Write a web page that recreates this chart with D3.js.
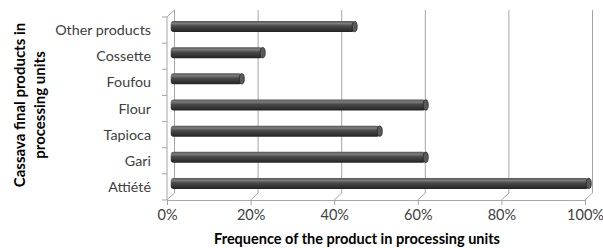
<!DOCTYPE html>
<html>
<head>
<meta charset="utf-8">
<script src="https://cdn.jsdelivr.net/npm/d3@7"></script>
<style>
  body { margin: 0; background: #fff; }
  text { font-family: Lato, "Open Sans", sans-serif; }
</style>
</head>
<body>
<div id="chart"></div>
<script>
// chart data, bottom to top as drawn
const categories = ["Attiété", "Gari", "Tapioca", "Flour", "Foufou", "Cossette", "Other products"];
const frequence = [1.00, 0.61, 0.50, 0.61, 0.17, 0.22, 0.44];
const xTicks = [0, 0.2, 0.4, 0.6, 0.8, 1.0];

const width = 603, height = 248;
// front plane of the 3d box
const plot = { left: 167, right: 585, top: 17, bottom: 200 };
// depth offset of back wall
const depth = { dx: 7.5, dy: -7 };

const svg = d3.select("#chart")
  .append("svg")
  .attr("width", width)
  .attr("height", height);

const defs = svg.append("defs");
const grad = defs.append("linearGradient")
  .attr("id", "cyl")
  .attr("x1", 0).attr("y1", 0).attr("x2", 0).attr("y2", 1);
grad.append("stop").attr("offset", "0%").attr("stop-color", "#555");
grad.append("stop").attr("offset", "22%").attr("stop-color", "#7c7c7c");
grad.append("stop").attr("offset", "45%").attr("stop-color", "#4a4a4a");
grad.append("stop").attr("offset", "100%").attr("stop-color", "#222");

// scales
let xScale = d3.scaleLinear()
  .domain([0, 1])
  .range([plot.left, plot.right]);

let yScale = d3.scaleBand()
  .domain(categories)
  .range([plot.bottom, plot.top])
  .paddingInner(0.58)
  .paddingOuter(0.29);

let yBand = d3.scaleBand()
  .domain(categories)
  .range([plot.bottom, plot.top]);

const grid = "#a6a6a6";

// back wall gridlines with floor diagonal
svg.append("g")
  .selectAll("path")
  .data(xTicks)
  .enter()
  .append("path")
    .attr("d", d => {
      const xf = xScale(d), xb = xf + depth.dx;
      return `M${xb},${plot.top + depth.dy}V${plot.bottom + depth.dy}L${xf},${plot.bottom}`;
    })
    .attr("fill", "none")
    .attr("stroke", grid)
    .attr("stroke-width", 1);

// left wall front edge + top diagonal
svg.append("path")
  .attr("d", `M${plot.left},${plot.bottom}V${plot.top}L${plot.left + depth.dx},${plot.top + depth.dy}`)
  .attr("fill", "none")
  .attr("stroke", grid);

// bottom axis
const xAxis = svg.append("g")
  .attr("transform", `translate(0,${plot.bottom})`)
  .call(d3.axisBottom(xScale)
    .tickValues(xTicks)
    .tickFormat(d3.format(".0%"))
    .tickSize(5)
    .tickPadding(5));
xAxis.select(".domain").attr("stroke", grid);
xAxis.selectAll("line").attr("stroke", grid);
xAxis.selectAll("text")
  .attr("font-size", "14.5px")
  .attr("fill", "#404040");

// left axis (ticks at band boundaries, labels centered on bands)
const yAxis = svg.append("g")
  .attr("transform", `translate(${plot.left},0)`);
yAxis.selectAll("line")
  .data(categories)
  .enter()
  .append("line")
    .attr("x1", -5).attr("x2", 0)
    .attr("y1", d => yBand(d) + yBand.bandwidth())
    .attr("y2", d => yBand(d) + yBand.bandwidth())
    .attr("stroke", grid);
yAxis.append("line")
  .attr("x1", -5).attr("x2", 0)
  .attr("y1", plot.top).attr("y2", plot.top)
  .attr("stroke", grid);
yAxis.selectAll("text")
  .data(categories)
  .enter()
  .append("text")
    .attr("x", -16)
    .attr("y", d => yBand(d) + yBand.bandwidth() / 2)
    .attr("dy", "0.35em")
    .attr("text-anchor", "end")
    .attr("font-size", "14.3px")
    .attr("fill", "#404040")
    .text(d => d);

// bars: cylinders sitting half way into the depth
const bars = svg.append("g")
  .attr("transform", `translate(${depth.dx / 2},${depth.dy / 2})`);
const bh = yScale.bandwidth();

bars.selectAll(".bar")
  .data(categories)
  .enter()
  .append("rect")
    .attr("class", "bar")
    .attr("x", xScale(0))
    .attr("y", d => yScale(d))
    .attr("width", (d, i) => xScale(frequence[i]) - xScale(0))
    .attr("height", bh)
    .attr("rx", 3)
    .attr("fill", "url(#cyl)");

bars.selectAll(".cap")
  .data(categories)
  .enter()
  .append("ellipse")
    .attr("class", "cap")
    .attr("cx", (d, i) => xScale(frequence[i]))
    .attr("cy", d => yScale(d) + bh / 2)
    .attr("rx", 2.5)
    .attr("ry", bh / 2 - 0.3)
    .attr("fill", "#5a5a5a")
    .attr("stroke", "#2a2a2a")
    .attr("stroke-width", 0.8);

// axis titles
svg.append("text")
  .attr("x", 357)
  .attr("y", 244)
  .attr("text-anchor", "middle")
  .attr("font-size", "14.5px")
  .attr("font-weight", "bold")
  .attr("fill", "#000")
  .text("Frequence of the product in processing units");

const yTitle = svg.append("text")
  .attr("transform", "translate(25,105) rotate(-90)")
  .attr("text-anchor", "middle")
  .attr("font-size", "15px")
  .attr("font-weight", "bold")
  .attr("fill", "#000");
yTitle.append("tspan").attr("x", 0).attr("y", 0).text("Cassava final products in");
yTitle.append("tspan").attr("x", 0).attr("y", 20).text("processing units");
</script>
</body>
</html>
